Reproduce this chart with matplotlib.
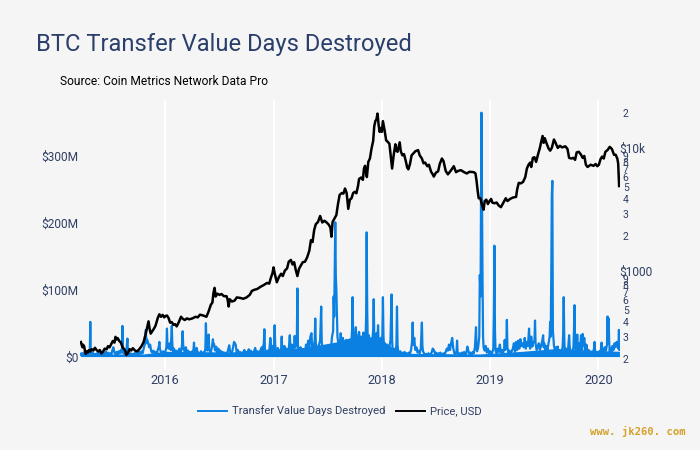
import matplotlib; matplotlib.use("Agg")
import matplotlib.pyplot as plt
from matplotlib.transforms import ScaledTranslation

plt.rcParams['font.family'] = ['Roboto', 'DejaVu Sans']

BG = "#f5f5f5"
INK = "#2f3f63"
TITLE = "#2a3f6b"
BLUE = "#0a80e2"

# transfer value days destroyed, $M (decimal year / value, rows line up)
tvdd_year = [
    2015.215, 2015.225, 2015.235, 2015.245, 2015.255, 2015.265, 2015.275, 2015.285, 2015.295, 2015.303, 2015.307, 2015.311,
    2015.32, 2015.33, 2015.34, 2015.35, 2015.36, 2015.37, 2015.38, 2015.39, 2015.40, 2015.41, 2015.42, 2015.43,
    2015.44, 2015.45, 2015.46, 2015.47, 2015.48, 2015.49, 2015.50, 2015.51, 2015.52, 2015.53, 2015.54, 2015.55,
    2015.56, 2015.57, 2015.58, 2015.59, 2015.60, 2015.604, 2015.608, 2015.62, 2015.63, 2015.64, 2015.65, 2015.655,
    2015.67, 2015.68, 2015.69, 2015.70, 2015.71, 2015.72, 2015.73, 2015.74, 2015.75, 2015.76, 2015.77, 2015.78,
    2015.79, 2015.80, 2015.81, 2015.815, 2015.82, 2015.825, 2015.83, 2015.84, 2015.85, 2015.86, 2015.87, 2015.88,
    2015.89, 2015.90, 2015.91, 2015.92, 2015.93, 2015.94, 2015.945, 2015.95, 2015.96, 2015.97, 2015.98, 2015.99,
    2016.00, 2016.01, 2016.015, 2016.02, 2016.03, 2016.04, 2016.05, 2016.06, 2016.065, 2016.07, 2016.08, 2016.09,
    2016.10, 2016.11, 2016.12, 2016.13, 2016.14, 2016.15, 2016.155, 2016.16, 2016.165, 2016.17, 2016.18, 2016.19,
    2016.20, 2016.21, 2016.22, 2016.23, 2016.24, 2016.25, 2016.26, 2016.265, 2016.27, 2016.28, 2016.29, 2016.30,
    2016.31, 2016.32, 2016.33, 2016.34, 2016.35, 2016.36, 2016.37, 2016.375, 2016.38, 2016.39, 2016.40, 2016.405,
    2016.41, 2016.42, 2016.43, 2016.44, 2016.445, 2016.45, 2016.46, 2016.47, 2016.48, 2016.49, 2016.50, 2016.51,
    2016.52, 2016.53, 2016.54, 2016.55, 2016.56, 2016.57, 2016.58, 2016.59, 2016.60, 2016.61, 2016.62, 2016.635,
    2016.65, 2016.66, 2016.67, 2016.68, 2016.69, 2016.70, 2016.71, 2016.72, 2016.73, 2016.74, 2016.75, 2016.76,
    2016.77, 2016.78, 2016.79, 2016.80, 2016.81, 2016.82, 2016.83, 2016.84, 2016.85, 2016.86, 2016.87, 2016.88,
    2016.89, 2016.90, 2016.905, 2016.91, 2016.915, 2016.92, 2016.93, 2016.94, 2016.95, 2016.96, 2016.97, 2016.98,
    2016.99, 2017.00, 2017.005, 2017.01, 2017.015, 2017.02, 2017.03, 2017.04, 2017.05, 2017.06, 2017.07, 2017.075,
    2017.08, 2017.09, 2017.10, 2017.11, 2017.12, 2017.13, 2017.14, 2017.15, 2017.155, 2017.16, 2017.17, 2017.18,
    2017.19, 2017.195, 2017.20, 2017.21, 2017.215, 2017.22, 2017.225, 2017.23, 2017.24, 2017.25, 2017.26, 2017.27,
    2017.28, 2017.29, 2017.30, 2017.31, 2017.32, 2017.33, 2017.34, 2017.35, 2017.355, 2017.36, 2017.37, 2017.38,
    2017.385, 2017.39, 2017.40, 2017.41, 2017.42, 2017.43, 2017.44, 2017.445, 2017.45, 2017.46, 2017.47, 2017.48,
    2017.49, 2017.50, 2017.51, 2017.52, 2017.53, 2017.54, 2017.55, 2017.555, 2017.56, 2017.57, 2017.575, 2017.58,
    2017.59, 2017.60, 2017.61, 2017.62, 2017.63, 2017.64, 2017.65, 2017.66, 2017.67, 2017.68, 2017.69, 2017.70,
    2017.71, 2017.72, 2017.725, 2017.73, 2017.735, 2017.74, 2017.75, 2017.76, 2017.765, 2017.77, 2017.78, 2017.79,
    2017.80, 2017.81, 2017.82, 2017.83, 2017.84, 2017.85, 2017.855, 2017.86, 2017.865, 2017.87, 2017.88, 2017.89,
    2017.90, 2017.91, 2017.92, 2017.925, 2017.93, 2017.94, 2017.95, 2017.96, 2017.965, 2017.97, 2017.98, 2017.99,
    2018.00, 2018.005, 2018.01, 2018.015, 2018.02, 2018.03, 2018.04, 2018.05, 2018.06, 2018.07, 2018.08, 2018.085,
    2018.09, 2018.095, 2018.10, 2018.11, 2018.12, 2018.13, 2018.135, 2018.14, 2018.145, 2018.15, 2018.16, 2018.17,
    2018.18, 2018.19, 2018.20, 2018.21, 2018.22, 2018.23, 2018.24, 2018.25, 2018.26, 2018.27, 2018.28, 2018.285,
    2018.29, 2018.30, 2018.305, 2018.31, 2018.32, 2018.33, 2018.34, 2018.35, 2018.36, 2018.365, 2018.37, 2018.375,
    2018.38, 2018.39, 2018.40, 2018.41, 2018.42, 2018.43, 2018.44, 2018.45, 2018.46, 2018.47, 2018.48, 2018.49,
    2018.50, 2018.51, 2018.52, 2018.53, 2018.54, 2018.55, 2018.56, 2018.57, 2018.58, 2018.59, 2018.60, 2018.61,
    2018.62, 2018.63, 2018.64, 2018.65, 2018.66, 2018.67, 2018.68, 2018.69, 2018.695, 2018.70, 2018.71, 2018.72,
    2018.73, 2018.74, 2018.75, 2018.76, 2018.77, 2018.78, 2018.79, 2018.80, 2018.81, 2018.82, 2018.83, 2018.84,
    2018.85, 2018.86, 2018.87, 2018.875, 2018.88, 2018.89, 2018.90, 2018.905, 2018.912, 2018.92, 2018.925, 2018.93,
    2018.935, 2018.94, 2018.95, 2018.96, 2018.97, 2018.98, 2018.99, 2019.00, 2019.01, 2019.02, 2019.03, 2019.035,
    2019.04, 2019.045, 2019.05, 2019.06, 2019.07, 2019.08, 2019.09, 2019.10, 2019.11, 2019.12, 2019.13, 2019.135,
    2019.14, 2019.15, 2019.155, 2019.16, 2019.17, 2019.18, 2019.19, 2019.20, 2019.21, 2019.22, 2019.23, 2019.24,
    2019.25, 2019.26, 2019.27, 2019.28, 2019.29, 2019.30, 2019.31, 2019.32, 2019.33, 2019.34, 2019.35, 2019.36,
    2019.365, 2019.37, 2019.38, 2019.39, 2019.40, 2019.41, 2019.415, 2019.42, 2019.43, 2019.44, 2019.45, 2019.46,
    2019.47, 2019.48, 2019.49, 2019.495, 2019.50, 2019.51, 2019.52, 2019.53, 2019.54, 2019.55, 2019.555, 2019.56,
    2019.565, 2019.57, 2019.575, 2019.58, 2019.59, 2019.60, 2019.61, 2019.62, 2019.625, 2019.63, 2019.64, 2019.65,
    2019.66, 2019.67, 2019.675, 2019.68, 2019.685, 2019.69, 2019.70, 2019.71, 2019.72, 2019.73, 2019.735, 2019.74,
    2019.75, 2019.76, 2019.77, 2019.775, 2019.78, 2019.785, 2019.79, 2019.80, 2019.805, 2019.81, 2019.82, 2019.83,
    2019.84, 2019.85, 2019.855, 2019.86, 2019.87, 2019.88, 2019.89, 2019.90, 2019.91, 2019.92, 2019.93, 2019.94,
    2019.95, 2019.96, 2019.965, 2019.97, 2019.98, 2019.99, 2020.00, 2020.01, 2020.02, 2020.03, 2020.04, 2020.05,
    2020.06, 2020.07, 2020.08, 2020.085, 2020.09, 2020.095, 2020.10, 2020.105, 2020.11, 2020.12, 2020.13, 2020.14,
    2020.15, 2020.16, 2020.17, 2020.175, 2020.18, 2020.185, 2020.19, 2020.195,
]
tvdd_musd = [
    3, 5, 2, 6, 3, 8, 3, 5, 4, 10, 52, 9,
    3, 6, 2, 4, 3, 5, 2, 7, 3, 4, 2, 6,
    3, 8, 3, 6, 3, 5, 2, 9, 14, 6, 4, 7,
    3, 8, 5, 10, 6, 46, 9, 4, 6, 8, 27, 6,
    3, 5, 2, 4, 3, 6, 2, 5, 3, 7, 4, 8,
    5, 12, 18, 24, 40, 20, 26, 22, 14, 18, 8, 6,
    9, 5, 7, 4, 10, 15, 22, 12, 6, 4, 8, 5,
    7, 14, 42, 16, 12, 20, 10, 46, 18, 8, 12, 6,
    9, 4, 8, 12, 6, 10, 20, 38, 18, 12, 7, 14,
    5, 9, 4, 7, 3, 8, 10, 21, 9, 5, 13, 4,
    6, 3, 8, 4, 6, 5, 12, 50, 14, 9, 33, 12,
    9, 6, 14, 26, 16, 19, 9, 15, 6, 12, 5, 9,
    4, 7, 3, 6, 4, 5, 10, 17, 6, 4, 9, 22,
    18, 5, 10, 4, 7, 3, 6, 4, 10, 3, 7, 5,
    11, 6, 9, 3, 6, 8, 13, 5, 8, 3, 6, 10,
    14, 9, 16, 20, 41, 12, 7, 5, 9, 6, 28, 10,
    16, 8, 20, 47, 18, 10, 6, 13, 5, 8, 12, 30,
    12, 6, 16, 7, 12, 6, 10, 32, 15, 9, 18, 11,
    14, 31, 14, 16, 25, 102, 18, 8, 6, 14, 8, 6,
    10, 7, 18, 12, 24, 14, 30, 35, 18, 10, 12, 25,
    57, 20, 10, 12, 18, 24, 75, 22, 12, 9, 14, 10,
    8, 16, 9, 14, 11, 30, 38, 90, 60, 201, 120, 100,
    30, 18, 12, 35, 15, 28, 12, 20, 25, 14, 18, 12,
    20, 25, 40, 89, 30, 18, 26, 44, 22, 16, 28, 37,
    16, 30, 18, 36, 20, 30, 60, 186, 70, 22, 32, 18,
    26, 18, 40, 86, 30, 20, 35, 26, 47, 22, 18, 28,
    15, 35, 89, 32, 16, 20, 12, 18, 10, 14, 25, 60,
    93, 24, 10, 8, 12, 7, 20, 75, 18, 9, 5, 8,
    4, 6, 4, 7, 4, 5, 3, 6, 4, 10, 24, 51,
    18, 28, 16, 10, 14, 6, 9, 5, 12, 30, 51, 16,
    8, 5, 3, 4, 2, 5, 3, 4, 6, 12, 10, 5,
    6, 3, 5, 3, 6, 4, 3, 5, 3, 7, 12, 9,
    18, 10, 20, 28, 12, 5, 4, 8, 24, 6, 3, 5,
    3, 6, 4, 7, 3, 5, 15, 8, 4, 6, 3, 7,
    5, 14, 44, 12, 8, 14, 30, 122, 90, 365, 230, 120,
    30, 14, 9, 16, 6, 12, 5, 8, 4, 6, 12, 65,
    166, 40, 9, 5, 12, 7, 18, 6, 10, 5, 12, 25,
    10, 16, 55, 14, 5, 9, 4, 8, 12, 20, 7, 22,
    10, 24, 12, 26, 16, 20, 14, 28, 12, 22, 16, 42,
    18, 12, 30, 15, 22, 24, 54, 20, 10, 14, 20, 10,
    16, 22, 32, 14, 20, 9, 16, 10, 20, 30, 52, 30,
    120, 240, 263, 40, 16, 10, 14, 8, 15, 6, 10, 5,
    8, 14, 35, 89, 30, 6, 12, 5, 10, 32, 16, 6,
    4, 9, 14, 40, 77, 18, 7, 12, 33, 10, 20, 8,
    32, 10, 34, 16, 28, 9, 18, 6, 10, 4, 7, 3,
    6, 12, 22, 8, 4, 6, 3, 8, 5, 21, 8, 6,
    14, 9, 18, 60, 30, 57, 22, 8, 12, 6, 16, 10,
    20, 14, 22, 16, 18, 12, 40, 10,
]

# top of the solid band the daily data makes along the bottom
band_year = [2015.215, 2015.8, 2016.0, 2016.6, 2017.0, 2017.3, 2017.58, 2017.7, 2017.95, 2018.05, 2018.2, 2018.9, 2019.3, 2019.6, 2020.195]
band_musd = [4, 4, 8, 7, 11, 14, 22, 28, 30, 18, 5, 4, 8, 12, 8]

# price, USD
price_year = [
    2015.22, 2015.228, 2015.235, 2015.24, 2015.25, 2015.258, 2015.265, 2015.275, 2015.285, 2015.295, 2015.305, 2015.32,
    2015.335, 2015.35, 2015.365, 2015.38, 2015.395, 2015.41, 2015.425, 2015.44, 2015.46, 2015.47, 2015.485, 2015.50,
    2015.515, 2015.53, 2015.54, 2015.55, 2015.56, 2015.575, 2015.59, 2015.605, 2015.62, 2015.63, 2015.64, 2015.655,
    2015.67, 2015.685, 2015.70, 2015.72, 2015.74, 2015.76, 2015.78, 2015.80, 2015.815, 2015.83, 2015.845, 2015.855,
    2015.865, 2015.88, 2015.895, 2015.91, 2015.93, 2015.945, 2015.96, 2015.975, 2015.99, 2016.00, 2016.015, 2016.03,
    2016.045, 2016.06, 2016.075, 2016.09, 2016.105, 2016.125, 2016.145, 2016.16, 2016.18, 2016.20, 2016.22, 2016.25,
    2016.28, 2016.30, 2016.32, 2016.35, 2016.38, 2016.40, 2016.42, 2016.435, 2016.445, 2016.455, 2016.465, 2016.48,
    2016.50, 2016.52, 2016.54, 2016.565, 2016.575, 2016.585, 2016.595, 2016.615, 2016.64, 2016.66, 2016.69, 2016.72,
    2016.75, 2016.78, 2016.80, 2016.825, 2016.85, 2016.88, 2016.91, 2016.94, 2016.96, 2016.975, 2016.99, 2017.00,
    2017.01, 2017.02, 2017.03, 2017.05, 2017.07, 2017.085, 2017.105, 2017.125, 2017.14, 2017.16, 2017.175, 2017.19,
    2017.205, 2017.22, 2017.235, 2017.25, 2017.27, 2017.29, 2017.31, 2017.33, 2017.345, 2017.36, 2017.375, 2017.39,
    2017.41, 2017.43, 2017.45, 2017.47, 2017.49, 2017.51, 2017.525, 2017.535, 2017.545, 2017.565, 2017.58, 2017.595,
    2017.61, 2017.63, 2017.645, 2017.66, 2017.675, 2017.69, 2017.705, 2017.72, 2017.735, 2017.75, 2017.765, 2017.78,
    2017.79, 2017.81, 2017.825, 2017.835, 2017.845, 2017.855, 2017.862, 2017.875, 2017.89, 2017.905, 2017.92, 2017.93,
    2017.94, 2017.95, 2017.96, 2017.97, 2017.98, 2017.99, 2018.00, 2018.01, 2018.025, 2018.04, 2018.055, 2018.07,
    2018.08, 2018.095, 2018.11, 2018.125, 2018.135, 2018.145, 2018.165, 2018.175, 2018.19, 2018.205, 2018.22, 2018.235,
    2018.245, 2018.26, 2018.275, 2018.29, 2018.31, 2018.335, 2018.35, 2018.37, 2018.385, 2018.40, 2018.42, 2018.435,
    2018.455, 2018.47, 2018.48, 2018.50, 2018.52, 2018.535, 2018.555, 2018.57, 2018.59, 2018.61, 2018.635, 2018.665,
    2018.685, 2018.705, 2018.73, 2018.76, 2018.785, 2018.81, 2018.85, 2018.865, 2018.875, 2018.885, 2018.895, 2018.91,
    2018.925, 2018.94, 2018.95, 2018.965, 2018.98, 2018.995, 2019.01, 2019.02, 2019.04, 2019.06, 2019.08, 2019.10,
    2019.12, 2019.145, 2019.16, 2019.185, 2019.21, 2019.24, 2019.25, 2019.265, 2019.285, 2019.305, 2019.325, 2019.34,
    2019.355, 2019.37, 2019.38, 2019.395, 2019.41, 2019.425, 2019.445, 2019.46, 2019.47, 2019.485, 2019.495, 2019.505,
    2019.52, 2019.54, 2019.555, 2019.57, 2019.59, 2019.605, 2019.625, 2019.645, 2019.665, 2019.695, 2019.715, 2019.73,
    2019.75, 2019.77, 2019.785, 2019.80, 2019.82, 2019.84, 2019.855, 2019.87, 2019.885, 2019.90, 2019.93, 2019.955,
    2019.975, 2019.99, 2020.005, 2020.02, 2020.035, 2020.05, 2020.065, 2020.085, 2020.105, 2020.125, 2020.145, 2020.16,
    2020.175, 2020.183, 2020.188, 2020.192,
]
price_usd = [
    265, 250, 240, 252, 245, 225, 212, 222, 218, 228, 222, 232,
    226, 238, 228, 222, 228, 214, 222, 234, 232, 245, 240, 255,
    270, 262, 292, 278, 285, 270, 262, 240, 232, 225, 208, 215,
    232, 226, 236, 226, 222, 232, 245, 265, 300, 340, 390, 340,
    310, 325, 340, 360, 415, 445, 425, 440, 420, 430, 435, 415,
    380, 385, 365, 370, 355, 385, 425, 410, 400, 412, 405, 412,
    425, 420, 442, 435, 425, 470, 530, 555, 665, 730, 620, 655,
    640, 650, 625, 625, 590, 515, 590, 565, 575, 610, 605, 595,
    610, 640, 690, 705, 715, 745, 770, 800, 790, 880, 960, 1070,
    960, 880, 810, 895, 950, 910, 1010, 1050, 1190, 1230, 1130, 1180,
    1020, 910, 1040, 1100, 1180, 1190, 1290, 1460, 1780, 1720, 2150, 2400,
    2500, 2800, 2480, 2560, 2480, 2380, 2250, 1900, 2500, 2700, 2850, 3500,
    4150, 4300, 4250, 4680, 4300, 3200, 3800, 3900, 4300, 4400, 4280, 4900,
    5600, 5750, 5500, 6800, 7150, 6200, 5800, 7700, 8200, 9900, 11400, 15000,
    16500, 17000, 19000, 15500, 13500, 14500, 13500, 16500, 14000, 11500, 11200, 10800,
    9000, 6800, 8800, 10700, 9500, 9300, 11100, 9400, 8700, 8900, 7900, 6900,
    6700, 7400, 8700, 9000, 9400, 9600, 8700, 8200, 7500, 7600, 7100, 7300,
    6400, 6100, 5850, 6300, 6450, 7400, 8200, 7800, 6500, 6100, 6500, 7100,
    6350, 6500, 6600, 6350, 6200, 6400, 6350, 6200, 5400, 4500, 3900, 3900,
    3450, 3150, 3700, 3800, 3500, 3700, 3850, 3600, 3550, 3600, 3400, 3300,
    3550, 3900, 3700, 3850, 3950, 4000, 4600, 5200, 5150, 5300, 5800, 6800,
    7300, 7600, 7000, 8300, 8400, 7700, 9000, 10000, 11000, 12500, 11000, 12000,
    11000, 9900, 9500, 10000, 11700, 11000, 10000, 10400, 10100, 10300, 9800, 8300,
    8200, 8300, 8000, 9200, 9300, 8800, 8300, 8600, 7300, 7000, 7300, 7150,
    7400, 7100, 7300, 8100, 8500, 8200, 9300, 9600, 10200, 9800, 8800, 8800,
    8200, 7500, 5800, 4900,
]

year_ticks = [2016, 2017, 2018, 2019, 2020]
tvdd_ticks = [0, 100, 200, 300]
tvdd_labels = ["$0", "$100M", "$200M", "$300M"]
price_ticks = [200, 300, 400, 500, 600, 700, 800, 900, 1000,
               2000, 3000, 4000, 5000, 6000, 7000, 8000, 9000, 10000, 20000]
price_labels = ["2", "3", "4", "5", "6", "7", "8", "9", "$1000",
                "2", "3", "4", "5", "6", "7", "8", "9", "$10k", "2"]

fig = plt.figure(figsize=(7, 4.5), dpi=100, facecolor=BG)
ax = fig.add_axes([80 / 700, 1 - 370 / 450, 540 / 700, 270 / 450], facecolor=BG)
ax.set_xlim(2015.212, 2020.2)
ax.set_ylim(-20, 384)
for s in ax.spines.values():
    s.set_visible(False)
ax.set_xticks(year_ticks)
ax.set_xticklabels([str(y) for y in year_ticks])
ax.set_yticks(tvdd_ticks)
ax.set_yticklabels(tvdd_labels)
ax.tick_params(length=0, labelsize=9.2, labelcolor=INK)
ax.tick_params(axis="y", pad=1, labelsize=8.6)
ax.tick_params(axis="x", pad=3)
ax.grid(axis="x", color="white", lw=1.5)
ax.axhline(0, color="white", lw=1.5, zorder=1)
ax.set_axisbelow(True)
l1, = ax.plot(tvdd_year, tvdd_musd, color=BLUE, lw=1.6, solid_joinstyle="round", zorder=3,
              label="Transfer Value Days Destroyed")
ax.fill_between(band_year, 0, band_musd, color=BLUE, lw=0, zorder=3)

ax2 = ax.twinx()
ax2.set_yscale("log")
ax2.set_ylim(157, 24500)
for s in ax2.spines.values():
    s.set_visible(False)
ax2.set_yticks(price_ticks)
ax2.set_yticklabels(price_labels)
ax2.minorticks_off()
ax2.tick_params(length=0, labelcolor=INK, labelsize=7.5, pad=2)
small_shift = ScaledTranslation(0, -2 / 100, fig.dpi_scale_trans)
big_shift = ScaledTranslation(-3 / 100, 0, fig.dpi_scale_trans)
for t, lab in zip(ax2.get_yticklabels(), price_labels):
    if lab.startswith("$"):
        t.set_fontsize(8.6)
        t.set_transform(t.get_transform() + big_shift)
    else:
        t.set_transform(t.get_transform() + small_shift)
l2, = ax2.plot(price_year, price_usd, color="black", lw=1.8, solid_joinstyle="round", label="Price, USD")

fig.text(36 / 700, 1 - 51 / 450, "BTC Transfer Value Days Destroyed", fontsize=17.1, color=TITLE)
fig.text(60 / 700, 1 - 85 / 450, "Source: Coin Metrics Network Data Pro", fontsize=8.65, color="black")

leg = fig.legend(handles=[l1, l2], loc="center", bbox_to_anchor=(339.5 / 700, 1 - 411 / 450), ncol=2, frameon=False,
                 fontsize=8.1, labelcolor=INK, handlelength=2.6, handletextpad=0.45, columnspacing=0.9)
for h in leg.get_lines():
    h.set_linewidth(1.4)

fig.text(686 / 700, 1 - 435 / 450, "www. jk260. com", ha="right", fontsize=7.6, color="#d4a02a",
         fontweight="bold", family="DejaVu Sans Mono")

fig.savefig("out.png", dpi=100, facecolor=BG)
